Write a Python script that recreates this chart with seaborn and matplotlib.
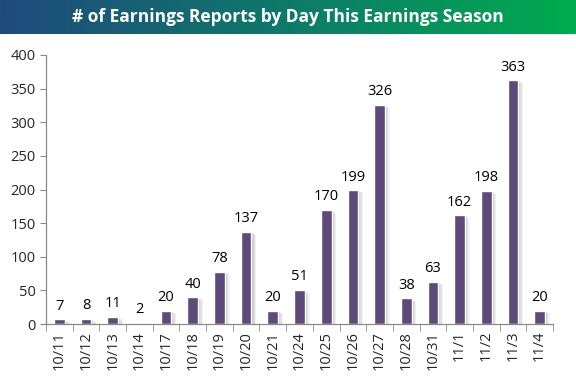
import numpy as np
import pandas as pd
import matplotlib
matplotlib.use("Agg")
import matplotlib.pyplot as plt
import matplotlib.patheffects as pe
import seaborn as sns

#data
days=["10/11","10/12","10/13","10/14","10/17","10/18","10/19","10/20","10/21","10/24",
      "10/25","10/26","10/27","10/28","10/31","11/1","11/2","11/3","11/4"]
reports=[7,8,11,2,20,40,78,137,20,51,170,199,326,38,63,162,198,363,20]

df=pd.DataFrame({"day":days,"reports":reports})

sns.set_style("white")
plt.rcParams['font.family']=['Open Sans','DejaVu Sans']

fig=plt.figure(figsize=(5.76,3.77),dpi=100)

#title banner with blue->green gradient
bax=fig.add_axes([0,1-34/377,1,34/377])
grad=np.linspace(0,1,256).reshape(1,-1)
cmap=matplotlib.colors.LinearSegmentedColormap.from_list("bn",["#1f4a7c","#0e7a6a","#00ab4e"])
bax.imshow(grad,aspect="auto",cmap=cmap,extent=[0,1,0,1])
bax.set_axis_off()
bax.text(0.5,0.5,"# of Earnings Reports by Day This Earnings Season",color="white",
         fontsize=12.5,fontweight="bold",ha="center",va="center")

ax=fig.add_axes([46/576,1-324/377,(553-46)/576,(324-55)/377])
sns.barplot(data=df,x="day",y="reports",color="#5d4a7b",saturation=1,width=0.4,ax=ax)
#soft drop shadow like the excel bars
shadow=[pe.SimplePatchShadow(offset=(o,-o*0.6),shadow_rgbFace="#808080",alpha=a)
        for o,a in [(3.5,0.10),(2.5,0.15),(1.5,0.2)]]
for p in ax.patches:
    p.set_path_effects(shadow+[pe.Normal()])

for i,v in enumerate(reports):
    ax.text(i,v+8,str(v),ha="center",va="bottom",fontsize=10.5,color="black")

ax.set_ylim(0,400)
ax.set_yticks(range(0,401,50))
ax.set_xlim(-0.5,len(days)-0.5)
ax.set_xlabel("")
ax.set_ylabel("")
ax.tick_params(axis="x",rotation=90,length=0,labelsize=10.5,pad=5)
ax.tick_params(axis="y",labelsize=10.5,length=4,color="#888888",direction="out",left=True)
ax.set_xticks(np.arange(-0.5,len(days),1),minor=True)
ax.tick_params(axis="x",which="minor",length=5,color="#888888",direction="out",bottom=True)
for s in ["top","right"]:
    ax.spines[s].set_visible(False)
for s in ["left","bottom"]:
    ax.spines[s].set_color("#888888")
    ax.spines[s].set_linewidth(0.9)

plt.savefig("out.png",dpi=100)
